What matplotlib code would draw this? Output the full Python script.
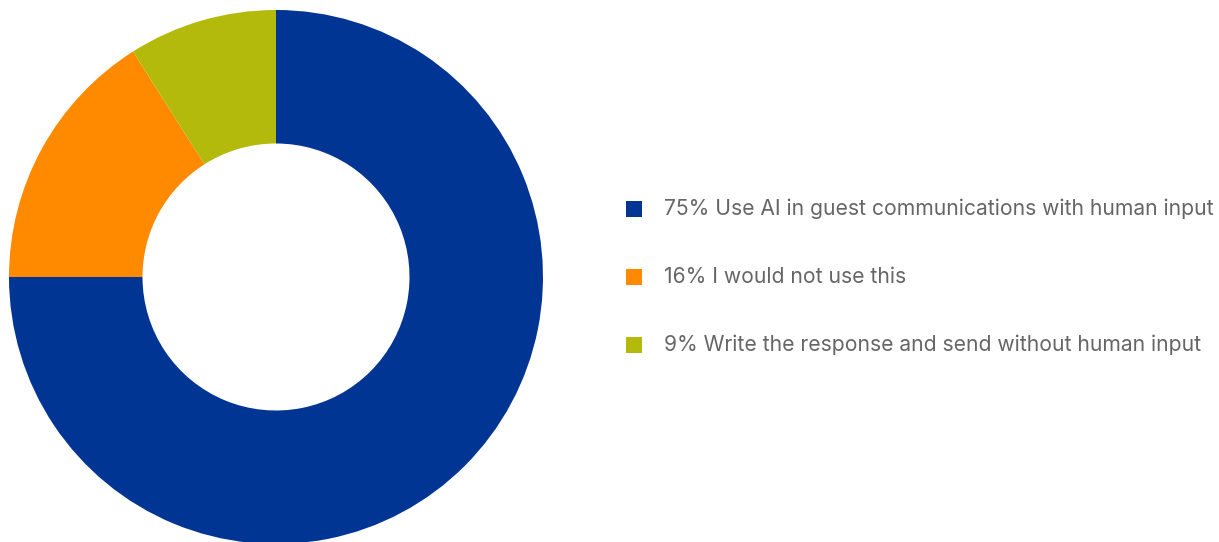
import matplotlib.pyplot as plt
from matplotlib.patches import Rectangle

# survey shares for AI use in guest communications
labels = [
    'Use AI in guest communications with human input',
    'I would not use this',
    'Write the response and send without human input',
]
shares = [75, 16, 9]
colors = ['#003594', '#FF8A00', '#B3BA0B']

W, H = 1219, 542
fig = plt.figure(figsize=(W / 100, H / 100), dpi=100)

# donut: centre (276, 277) px, outer radius 267 px
cx, cy, r = 276, 277, 267
ax = fig.add_axes([(cx - r) / W, (H - cy - r) / H, 2 * r / W, 2 * r / H])
ax.pie(shares, colors=colors, startangle=90, counterclock=False, radius=1,
       wedgeprops=dict(width=0.5, linewidth=0))
ax.set_xlim(-1, 1)
ax.set_ylim(-1, 1)
ax.set_aspect('equal')
ax.axis('off')

# legend rows
for i, (lab, val, c) in enumerate(zip(labels, shares, colors)):
    y = 209 + i * 68
    fig.add_artist(Rectangle((626 / W, (H - y - 8) / H), 16 / W, 16 / H,
                             transform=fig.transFigure, color=c, lw=0))
    fig.text(664 / W, (H - y) / H, f'{val}% {lab}', fontsize=15.2,
             color='#666666', va='center', ha='left', family='Inter')

fig.savefig('out.png', dpi=100)
